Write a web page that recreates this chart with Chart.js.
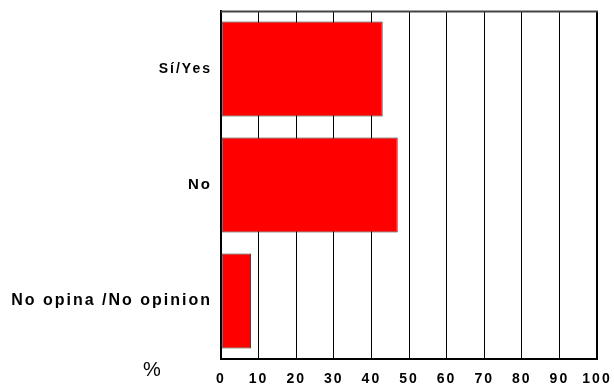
<!DOCTYPE html>
<html>
<head>
<meta charset="utf-8">
<script src="https://cdn.jsdelivr.net/npm/chart.js@4"></script>
<style>
  html, body { margin: 0; padding: 0; background: #fff; }
  #wrap { width: 614px; height: 385px; }
</style>
</head>
<body>
<div id="wrap"><canvas id="grafico"></canvas></div>
<script>
// respostas e percentagens
var categorias = ['Sí/Yes', 'No', 'No opina /No opinion'];
var valores = [43, 47, 8];
var eixoMin = 0, eixoMax = 100, passo = 10;

var fonte = '"Liberation Sans", Arial, sans-serif';
var tamanhosRotulo = [14, 15, 16];

// letras mais espaçadas nos rótulos (o canvas perde isto a cada resize)
var espacamento = {
    id: 'espacamento',
    beforeLayout: function (chart) { chart.ctx.letterSpacing = '2px'; },
    beforeDraw: function (chart) { chart.ctx.letterSpacing = '2px'; }
};

// linha superior do quadro e o símbolo % em baixo à esquerda
var moldura = {
    id: 'moldura',
    afterDraw: function (chart) {
        var ctx = chart.ctx;
        var topo = Math.round(chart.scales.y.top) + 0.5;
        var esq = chart.scales.x.left, dir = chart.scales.x.right + 1;
        ctx.save();
        ctx.strokeStyle = '#444';
        ctx.lineWidth = 2;
        ctx.beginPath();
        ctx.moveTo(esq, topo);
        ctx.lineTo(dir, topo);
        ctx.stroke();
        ctx.letterSpacing = '0px';
        ctx.fillStyle = '#000';
        ctx.font = '20px ' + fonte;
        ctx.textAlign = 'center';
        ctx.textBaseline = 'middle';
        ctx.fillText('%', 152, 370);
        ctx.restore();
    }
};

var ctx = document.getElementById('grafico').getContext('2d');
new Chart(ctx, {
    type: 'bar',
    data: {
        labels: categorias,
        datasets: [{
            data: valores,
            backgroundColor: '#ff0000',
            borderColor: '#333',
            borderWidth: 1,
            borderSkipped: false,
            barPercentage: 0.82,
            categoryPercentage: 1
        }]
    },
    options: {
        indexAxis: 'y',
        responsive: true,
        maintainAspectRatio: false,
        animation: false,
        layout: { padding: { top: 11, right: 17, left: 0, bottom: 0 } },
        plugins: {
            legend: { display: false },
            tooltip: { enabled: false }
        },
        scales: {
            x: {
                min: eixoMin,
                max: eixoMax,
                ticks: {
                    stepSize: passo,
                    color: '#000',
                    padding: 12,
                    maxRotation: 0,
                    font: { family: fonte, size: 14, weight: 'bold' }
                },
                grid: {
                    color: '#000',
                    lineWidth: function (c) { return c.index === 10 ? 2 : 1; },
                    drawTicks: false
                },
                border: { color: '#000', width: 2 },
                afterFit: function (s) {
                    s.height = 26;
                    s.paddingLeft = 0;
                    s.paddingRight = 0;
                }
            },
            y: {
                ticks: {
                    color: '#000',
                    padding: 9,
                    font: function (c) {
                        return { family: fonte, size: tamanhosRotulo[c.index] || 15, weight: 'bold' };
                    }
                },
                grid: { display: false, drawTicks: false },
                border: { color: '#000', width: 2 },
                afterFit: function (s) {
                    s.width = 221;
                    s.paddingTop = 0;
                    s.paddingBottom = 0;
                }
            }
        }
    },
    plugins: [espacamento, moldura]
});
</script>
</body>
</html>
